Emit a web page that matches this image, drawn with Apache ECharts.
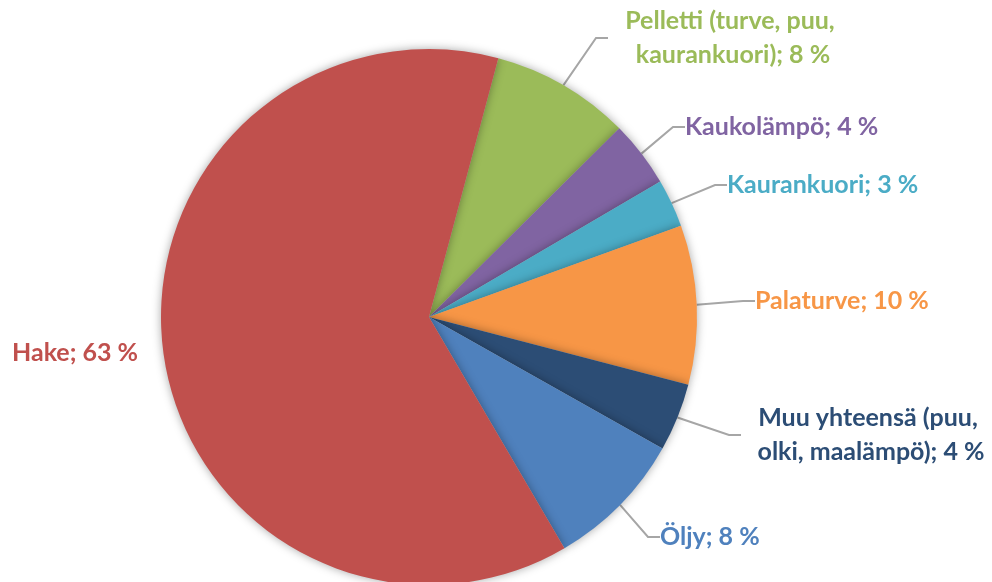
<!DOCTYPE html>
<html>
<head>
<meta charset="utf-8">
<script src="https://cdn.jsdelivr.net/npm/echarts@6/dist/echarts.min.js"></script>
<style>
  html, body { margin: 0; padding: 0; background: #fff; }
  #chart { width: 992px; height: 582px; }
</style>
</head>
<body>
<div id="chart"></div>
<script>
// shares in clockwise order from the top
const names = [
  "Pelletti (turve, puu, kaurankuori)",
  "Kaukolämpö",
  "Kaurankuori",
  "Palaturve",
  "Muu yhteensä (puu, olki, maalämpö)",
  "Öljy",
  "Hake",
];
const shares = [8.4, 4.0, 2.9, 9.6, 4.1, 8.4, 62.6];
const colors = ["#9BBB59", "#8064A2", "#4BACC6", "#F79646", "#2C4D75", "#4F81BD", "#C0504D"];

// where Excel put each label (x, y, align)
const labelSpots = [
  { x: 733, y: 38, align: "center" },
  { x: 685, y: 127, align: "left" },
  { x: 727, y: 185, align: "left" },
  { x: 755, y: 301, align: "left" },
  { x: 871, y: 435, align: "center" },
  { x: 660, y: 537, align: "left" },
  { x: 12, y: 353, align: "left" },
];
const wrapWidth = [250, 0, 0, 0, 260, 0, 0];

const chart = echarts.init(document.getElementById("chart"));
chart.setOption({
  animation: false,
  series: [
    {
      type: "pie",
      center: [429, 317],
      radius: 268,
      startAngle: 75,
      clockwise: true,
      data: names.map((n, i) => ({
        name: n,
        value: shares[i],
        itemStyle: { color: colors[i] },
        label: {
          color: colors[i],
          width: wrapWidth[i] || undefined,
          overflow: wrapWidth[i] ? "break" : "none",
          align: labelSpots[i].align,
        },
        labelLine: { show: n !== "Hake" },
      })),
      itemStyle: {
        shadowBlur: 10,
        shadowColor: "rgba(0,0,0,0.35)",
      },
      label: {
        show: true,
        position: "outside",
        fontFamily: "Lato",
        fontWeight: "bold",
        fontSize: 25,
        lineHeight: 34,
        formatter: (p) => p.name + "; " + Math.round(p.percent) + " %",
      },
      labelLine: {
        show: true,
        length: 20,
        length2: 12,
        lineStyle: { color: "#A6A6A6", width: 2 },
      },
      labelLayout: (p) => ({
        x: labelSpots[p.dataIndex].x,
        y: labelSpots[p.dataIndex].y,
        align: labelSpots[p.dataIndex].align,
        verticalAlign: "middle",
      }),
      emphasis: { disabled: true },
    },
  ],
});
</script>
</body>
</html>
